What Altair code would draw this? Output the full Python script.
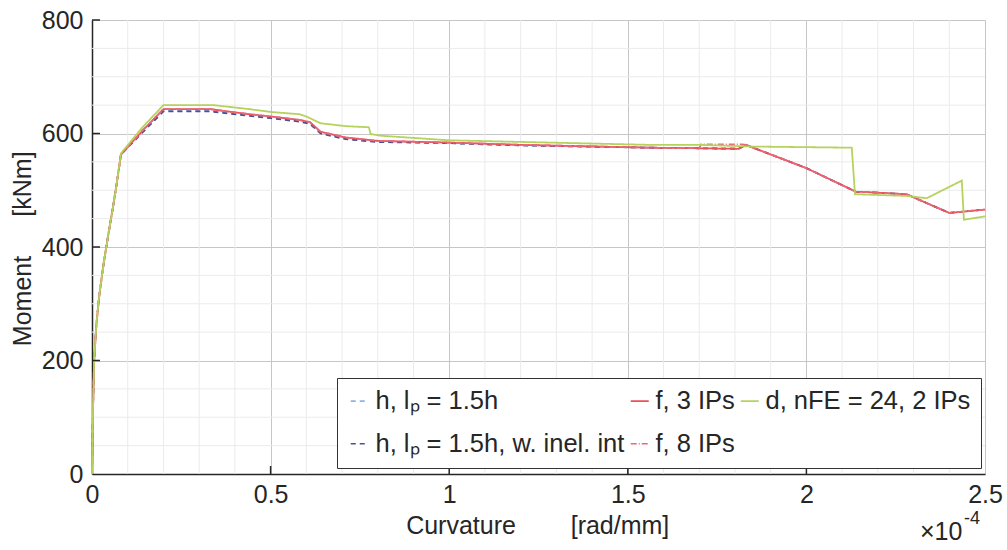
import altair as alt
import pandas as pd

# Curvature in units of 1e-4 rad/mm, moment in kNm
S_H = "h, lₚ = 1.5h"
S_HI = "h, lₚ = 1.5h, w. inel. int"
S_F3 = "f, 3 IPs"
S_F8 = "f, 8 IPs"
S_D = "d, nFE = 24, 2 IPs"

init_x = [0, 0.003, 0.006, 0.012, 0.02, 0.03, 0.04, 0.05, 0.06, 0.07, 0.081]
init_y = [0, 120, 200, 262, 312, 360, 400, 438, 475, 515, 563]

f3_x = init_x + [0.14, 0.2, 0.33, 0.44, 0.5, 0.58, 0.61, 0.64, 0.71, 0.8, 1.0, 1.2, 1.56, 1.70, 1.81, 1.83, 2.0, 2.14, 2.16, 2.28, 2.40, 2.5]
f3_y = init_y + [604, 643, 643, 634, 630, 624, 620, 603, 593, 587, 584, 580, 575, 574, 573, 580, 539, 497, 497, 493, 460, 466]

f8_x = init_x + [0.14, 0.2, 0.33, 0.44, 0.5, 0.58, 0.61, 0.64, 0.71, 0.8, 1.0, 1.2, 1.56, 1.70, 1.705, 1.82, 1.83, 2.0, 2.14, 2.16, 2.28, 2.40, 2.5]
f8_y = init_y + [604, 643, 643, 634, 630, 624, 620, 603, 593, 587, 584, 580, 575, 574, 581, 581, 580, 539, 497, 497, 493, 460, 466]

h_x = init_x + [0.14, 0.2, 0.33, 0.44, 0.5, 0.58, 0.61, 0.64, 0.71, 0.8, 1.0, 1.2, 1.56, 1.70, 1.81, 1.83, 2.0, 2.14, 2.16, 2.28, 2.40, 2.5]
h_y = init_y + [602, 640, 640, 632, 628, 622, 618, 601, 591, 586, 583, 579, 575, 574, 573, 580, 539, 497, 497, 493, 460, 466]

hi_x = init_x + [0.14, 0.2, 0.33, 0.44, 0.5, 0.58, 0.61, 0.64, 0.71, 0.8, 1.0, 1.2, 1.56, 1.70, 1.81, 1.83, 2.0, 2.14, 2.16, 2.28, 2.40, 2.5]
hi_y = init_y + [601, 639, 639, 631, 627, 621, 617, 600, 590, 585, 583, 579, 575, 574, 573, 580, 539, 497, 497, 493, 460, 466]

d_x = init_x + [0.14, 0.2, 0.34, 0.44, 0.5, 0.58, 0.6, 0.64, 0.71, 0.775, 0.78, 0.81, 1.0, 1.56, 1.70, 1.85, 2.127, 2.136, 2.28, 2.337, 2.435, 2.441, 2.5]
d_y = [0, 120, 200, 262, 312, 360, 400, 438, 475, 515, 565] + [610, 650, 650, 643, 638, 634, 630, 618, 613, 611, 599, 596, 588, 580, 580, 577, 575, 493, 490, 486, 517, 448, 454]

# legend fills column by column (2 rows)
series_order = [S_H, S_HI, S_F3, S_F8, S_D]
series_colors = ["#8fb3e3", "#4b4f95", "#e8505a", "#ea6a78", "#b5d35c"]
series_dash = [[5, 4], [5, 4], [1, 0], [6, 2, 1, 2], [1, 0]]

x_major = [0, 0.5, 1, 1.5, 2, 2.5]
y_major = [0, 200, 400, 600, 800]
x_minor = [0.1, 0.2, 0.3, 0.4, 0.6, 0.7, 0.8, 0.9, 1.1, 1.2, 1.3, 1.4, 1.6, 1.7, 1.8, 1.9, 2.1, 2.2, 2.3, 2.4]
y_minor = [50, 100, 150, 250, 300, 350, 450, 500, 550, 650, 700, 750]

rows = []
for name, xs, ys in [(S_H, h_x, h_y), (S_HI, hi_x, hi_y), (S_F3, f3_x, f3_y), (S_F8, f8_x, f8_y), (S_D, d_x, d_y)]:
    for i, (xv, yv) in enumerate(zip(xs, ys)):
        rows.append({"series": name, "curv": xv, "moment": yv, "idx": i})
df = pd.DataFrame(rows)

FONT = "Liberation Sans"
TXT = "#262626"
FS = 25

xscale = alt.Scale(domain=[0, 2.5], nice=False, zero=False)
yscale = alt.Scale(domain=[0, 800], nice=False)

legend = alt.Legend(
    title=None, orient="none", legendX=245, legendY=358, columns=3,
    symbolType="stroke", symbolSize=324, symbolStrokeWidth=1.6,
    labelFont=FONT, labelFontSize=25.5, labelColor=TXT, labelLimit=400,
    labelOffset=3, columnPadding=2, rowPadding=16, padding=10,
    strokeColor="#333333", fillColor="white", cornerRadius=0,
)

lines = alt.Chart(df).mark_line(strokeWidth=1.8).encode(
    x=alt.X("curv:Q", scale=xscale,
            axis=alt.Axis(values=x_major, format=".1~f", title=None, grid=True,
                          gridColor="#c6c6c6", gridWidth=1, tickSize=0,
                          labelFont=FONT, labelFontSize=FS, labelColor=TXT,
                          labelPadding=8, labelFlush=False, labelBound=False,
                          domainColor=TXT, domainWidth=1.5)),
    y=alt.Y("moment:Q", scale=yscale,
            axis=alt.Axis(values=y_major, format="d", title=None, grid=True,
                          gridColor="#c6c6c6", gridWidth=1, tickSize=0,
                          labelFont=FONT, labelFontSize=FS, labelColor=TXT,
                          labelPadding=9, labelFlush=False, labelBound=False,
                          domainColor=TXT, domainWidth=1.5)),
    color=alt.Color("series:N", scale=alt.Scale(domain=series_order, range=series_colors), legend=legend),
    strokeDash=alt.StrokeDash("series:N", scale=alt.Scale(domain=series_order, range=series_dash), legend=legend),
    detail="series:N",
    order="idx:Q",
)

minor_x = alt.Chart(pd.DataFrame({"v": x_minor})).mark_rule(color="#ebebeb", strokeWidth=1).encode(
    x=alt.X("v:Q", scale=xscale))
minor_y = alt.Chart(pd.DataFrame({"v": y_minor})).mark_rule(color="#ebebeb", strokeWidth=1).encode(
    y=alt.Y("v:Q", scale=yscale))

tick_x = alt.Chart(pd.DataFrame({"v": x_major[1:-1]})).mark_rule(color=TXT, strokeWidth=1.5).encode(
    x=alt.X("v:Q", scale=xscale), y=alt.value(454), y2=alt.value(446))
tick_y = alt.Chart(pd.DataFrame({"v": y_major[1:]})).mark_rule(color=TXT, strokeWidth=1.5).encode(
    y=alt.Y("v:Q", scale=yscale), x=alt.value(0), x2=alt.value(8))

def label(text, x, y, angle=0, size=FS, align="center"):
    return alt.Chart(pd.DataFrame({"t": [text]})).mark_text(
        font=FONT, fontSize=size, color=TXT, angle=angle, align=align, baseline="middle"
    ).encode(text="t:N", x=alt.value(x), y=alt.value(y))

titles = [
    label("Moment", -69, 281, angle=270),
    label("[kNm]", -69, 164, angle=270),
    label("Curvature", 369, 506),
    label("[rad/mm]", 528, 506),
    label("×10", 828, 512, align="left"),
    label("-4", 872, 499, size=18, align="left"),
]

chart = alt.layer(minor_x, minor_y, lines, tick_x, tick_y, *titles).properties(
    width=893, height=454,
    autosize=alt.AutoSizeParams(type="none"),
    padding={"left": 92, "top": 20, "right": 22, "bottom": 76},
).configure_view(stroke=None)

chart.save("out.html", embed_options={"renderer": "svg", "actions": False})
